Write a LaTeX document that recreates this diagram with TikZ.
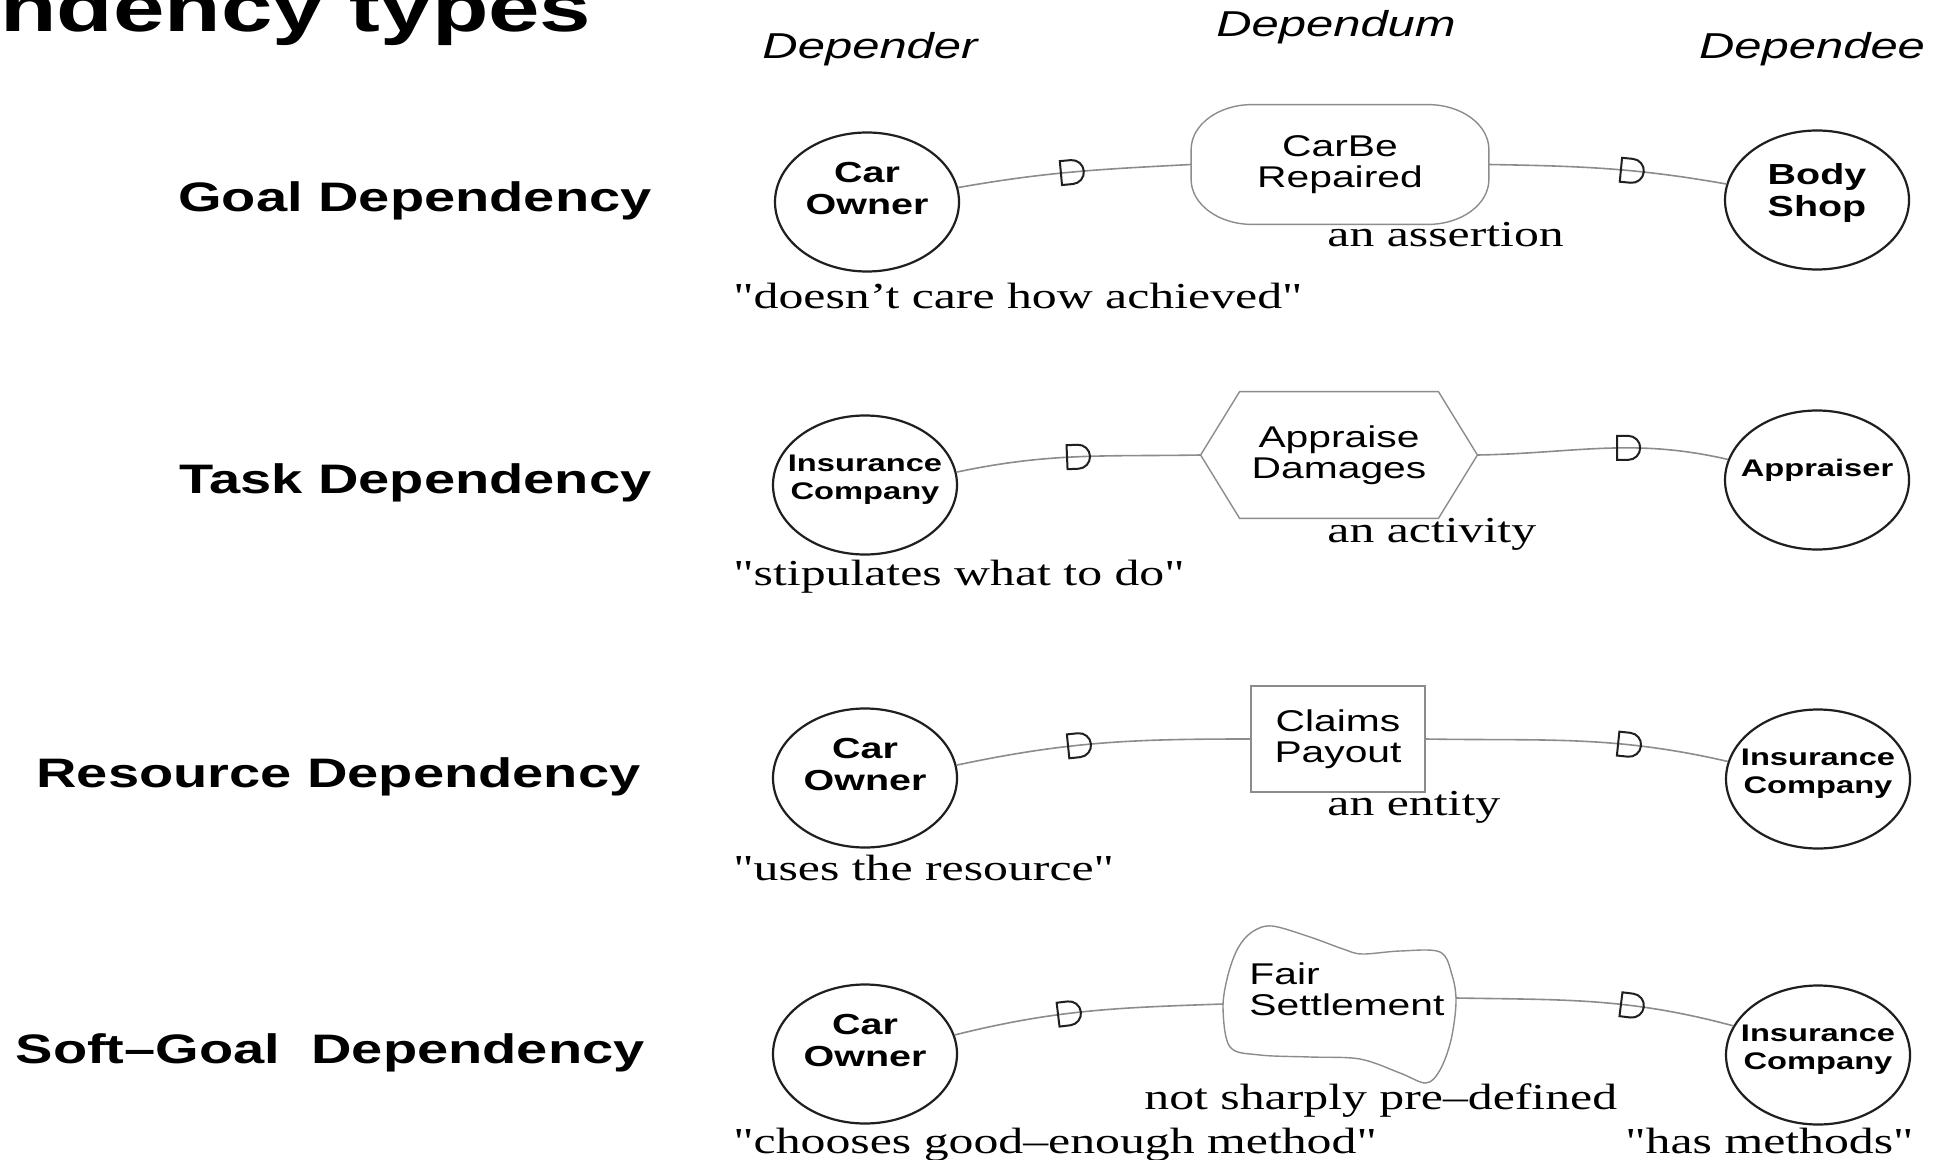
\documentclass[tikz,border=0pt]{standalone}
\usepackage{fontspec}
\setmainfont[FakeStretch=1.36,Ligatures=TeXOff]{Liberation Serif}
\newfontfamily\hv[FakeStretch=1.36]{Liberation Sans}
\usetikzlibrary{shapes.geometric,decorations.markings}

\newcommand\fsz[2]{\fontsize{#1}{#2}\selectfont}

\definecolor{linkgray}{gray}{0.55}
\definecolor{shapegray}{gray}{0.55}
\definecolor{inkdark}{gray}{0.12}

\begin{document}
\begin{tikzpicture}[x=0.5pt,y=0.5pt,
  actor/.style={ellipse,draw=inkdark,line width=1.1pt,minimum width=92pt,minimum height=69.5pt,inner sep=0pt},
  actorbig/.style={font=\hv\bfseries\fsz{14.5}{16},align=center,inner sep=0pt},
  actorsmall/.style={font=\hv\bfseries\fsz{12}{14},align=center,inner sep=0pt},
  dumtext/.style={font=\hv\fsz{15}{15.5},align=center,inner sep=0pt},
  dumline/.style={draw=shapegray,line width=0.7pt},
  rowlabel/.style={font=\hv\bfseries\fsz{20.6}{25},anchor=base east,inner sep=0pt},
  colhead/.style={font=\hv\itshape\fsz{18}{22},anchor=base,inner sep=0pt},
  note/.style={font=\fsz{18.3}{22},anchor=base west,inner sep=0pt},
  link/.style={draw=linkgray,line width=0.8pt},
  dmark/.style={postaction={decorate,decoration={markings,mark=at position #1 with {\draw[draw=inkdark,line width=1pt] (-5.5pt,6pt) -- (0pt,6pt) arc[start angle=90,end angle=-90,radius=6pt] -- (-5.5pt,-6pt) -- cycle;}}}}
]
\path[use as bounding box] (0,0) rectangle (1941,-1160);
\fill[white] (0,0) rectangle (1941,-1160);

% title and column headings
\node[font=\hv\bfseries\fsz{34}{40},anchor=base west,inner sep=0pt] (title) at (0,-32) {ndency types};
\node[colhead] (hdr) at (870,-59) {Depender};
\node[colhead] (hdm) at (1336,-37) {Dependum};
\node[colhead] (hde) at (1812,-59) {Dependee};

% row labels
\node[rowlabel] (lgoal) at (652,-212) {Goal Dependency};
\node[rowlabel] (ltask) at (652,-493) {Task Dependency};
\node[rowlabel] (lres) at (641,-787) {Resource Dependency};
\node[rowlabel] (lsoft) at (645,-1063) {Soft–Goal\ \ Dependency};

% ---- goal dependency
\node[actor] (co1) at (867,-202) {};
\node[actorbig] (co1t) at ([yshift=6.5pt]co1.center) {Car\\Owner};
\node[actor] (bs) at (1817,-200) {};
\node[actorbig] (bst) at ([yshift=3.5pt]bs.center) {Body\\Shop};
\node[dumtext,minimum width=148.5pt,minimum height=59.5pt] (g1) at (1340,-164.5) {CarBe\\Repaired};
\draw[dumline] ([xshift=30.5pt]g1.north west) -- ([xshift=-30.5pt]g1.north east)
  arc[start angle=90,end angle=0,x radius=30.5pt,y radius=22.5pt]
  -- ([yshift=22.5pt]g1.south east)
  arc[start angle=0,end angle=-90,x radius=30.5pt,y radius=22.5pt]
  -- ([xshift=30.5pt]g1.south west)
  arc[start angle=270,end angle=180,x radius=30.5pt,y radius=22.5pt]
  -- ([yshift=-22.5pt]g1.north west)
  arc[start angle=180,end angle=90,x radius=30.5pt,y radius=22.5pt]
  -- cycle;
\node[note] (n1a) at (1327,-247) {an assertion};
\node[note] (n1b) at (733,-308) {"doesn’t care how achieved"};

% ---- task dependency
\node[actor] (ic2) at (865,-485) {};
\node[actorsmall] (ic2t) at ([yshift=2.5pt]ic2.center) {Insurance\\Company};
\node[actor] (ap) at (1817,-480) {};
\node[actorsmall] (apt) at ([yshift=5pt]ap.center) {Appraiser};
\node[dumtext,minimum width=138pt,minimum height=63pt] (ad) at (1339,-455) {Appraise\\Damages};
\draw[dumline] (ad.west) -- ([xshift=19.5pt]ad.north west) -- ([xshift=-19.5pt]ad.north east)
  -- (ad.east) -- ([xshift=-19.5pt]ad.south east) -- ([xshift=19.5pt]ad.south west) -- cycle;
\node[note] (n2a) at (1327,-542) {an activity};
\node[note] (n2b) at (733,-585) {"stipulates what to do"};

% ---- resource dependency
\node[actor] (co3) at (865,-778) {};
\node[actorbig] (co3t) at ([yshift=6.5pt]co3.center) {Car\\Owner};
\node[actor] (ic3) at (1818,-779) {};
\node[actorsmall] (ic3t) at ([yshift=2.5pt]ic3.center) {Insurance\\Company};
\node[dumtext,dumline,minimum width=87pt,minimum height=53pt] (cp) at (1338,-739) {Claims\\Payout};
\node[note] (n3a) at (1327,-815) {an entity};
\node[note] (n3b) at (733,-880) {"uses the resource"};

% ---- soft-goal dependency
\node[actor] (co4) at (865,-1054) {};
\node[actorbig] (co4t) at ([yshift=6.5pt]co4.center) {Car\\Owner};
\node[actor] (ic4) at (1818,-1055) {};
\node[actorsmall] (ic4t) at ([yshift=2.5pt]ic4.center) {Insurance\\Company};
\node[dumtext,align=left,anchor=north west] (fs) at (1249,-962) {Fair\\Settlement};
\draw[dumline] plot[smooth cycle,tension=0.55] coordinates {
  (1272,-926) (1310,-937) (1343,-949) (1362,-954) (1400,-951) (1440,-952)
  (1452,-975) (1456,-1002) (1451,-1040) (1440,-1070) (1426,-1083)
  (1400,-1073) (1360,-1059) (1310,-1057) (1260,-1055) (1230,-1047)
  (1223,-1008) (1228,-975) (1238,-948) (1252,-932)};
\coordinate (clw) at (1223,-1004);
\coordinate (cle) at (1456,-998);
\node[note] (n4a) at (1144,-1109) {not sharply pre–defined};
\node[note] (n4b) at (733,-1153) {"chooses good–enough method"};
\node[note] (n4c) at (1625,-1153) {"has methods"};

% ---- dependency links with D marks
\draw[link,dmark=0.49] (co1.9) to[out=10,in=183] (g1.west);
\draw[link,dmark=0.60] (g1.east) to[out=-1,in=170] (bs.170);
\draw[link,dmark=0.50] (ic2.8) to[out=12,in=181] (ad.west);
\draw[link,dmark=0.60] (ad.east) to[out=1,in=167] (ap.167);
\draw[link,dmark=0.42] (co3.8) to[out=12,in=180] (cp.west);
\draw[link,dmark=0.67] (cp.east) to[out=-1,in=167] (ic3.169);
\draw[link,dmark=0.43] (co4.12) to[out=14,in=182] (clw);
\draw[link,dmark=0.63] (cle) to[out=-1,in=165] (ic4.161);
\end{tikzpicture}
\end{document}
